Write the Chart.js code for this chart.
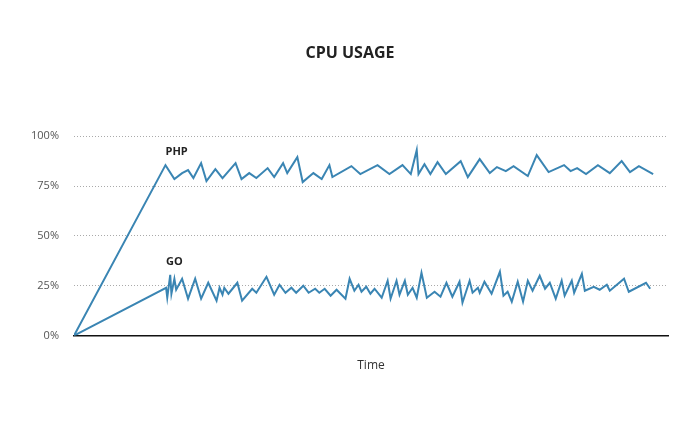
<!DOCTYPE html>
<html>
<head>
<meta charset="utf-8">
<script src="https://cdn.jsdelivr.net/npm/chart.js@4"></script>
<style>
  html, body { margin: 0; padding: 0; background: #fff; }
  #wrap { width: 700px; height: 440px; }
</style>
</head>
<body>
<div id="wrap"><canvas id="cpuChart" width="700" height="440"></canvas></div>
<script>
// time axis (arbitrary units 0..100) and cpu usage in %
const seriesNames = ['PHP', 'GO'];

const phpTime = [0, 15.4, 16.9, 18.2, 19.2, 20.1, 21.4, 22.3, 23.8, 25.0, 27.2, 28.2, 29.5, 30.7, 32.6, 33.7,
  35.2, 35.9, 37.6, 38.5, 40.3, 41.7, 43.0, 43.5, 46.7, 48.2, 51.1, 53.1, 55.3, 56.7, 57.7, 58.0, 59.0, 60.0,
  61.2, 62.6, 65.1, 66.3, 68.3, 70.0, 71.2, 72.7, 74.0, 76.4, 77.9, 79.9, 82.5, 83.6, 84.7, 86.2, 88.2, 90.2,
  92.2, 93.6, 95.1, 97.5];
const phpCpu = [0, 85.5, 78.5, 81.5, 83, 79, 86.5, 77.5, 83.5, 79, 86.5, 78.5, 81.5, 79, 84, 79.5,
  86.5, 81.5, 89.5, 77, 81.5, 78.5, 85.5, 79.5, 85, 81, 85.5, 81, 85.5, 81, 93, 81, 86, 81,
  87, 81, 87.5, 79.5, 88.5, 81.5, 84.5, 82.5, 85, 80, 90.5, 82, 85.5, 82.5, 84, 81, 85.5, 81.5,
  87.5, 82, 85, 81];

const goTime = [0, 15.5, 15.7, 16.2, 16.4, 16.9, 17.2, 18.2, 19.2, 20.4, 21.4, 22.6, 24.0, 24.5, 25.0, 25.3,
  26.0, 27.5, 28.3, 30.0, 30.7, 32.4, 33.7, 34.6, 35.6, 36.6, 37.4, 38.6, 39.5, 40.6, 41.3, 42.2, 43.2, 44.2,
  45.7, 46.4, 47.2, 47.9, 48.4, 49.2, 49.9, 50.6, 51.8, 52.8, 53.3, 54.3, 54.8, 55.7, 56.2, 57.0, 57.7, 58.5,
  59.4, 60.7, 61.7, 62.7, 63.7, 64.9, 65.4, 66.6, 67.1, 68.0, 68.3, 69.1, 70.3, 71.7, 72.3, 73.0, 73.7, 74.7,
  75.6, 76.4, 77.2, 78.4, 79.3, 80.1, 81.1, 82.1, 82.6, 83.8, 84.2, 85.5, 86.0, 87.5, 88.5, 89.7, 90.2, 92.6,
  93.4, 96.3, 97.0];
const goCpu = [0, 24, 19, 30.5, 21, 28.5, 23, 28.5, 18.5, 28.5, 18.5, 26.5, 17.5, 24, 20.5, 24,
  21, 26.5, 17.5, 23.5, 21.5, 29.5, 20.5, 25.5, 21.5, 24, 21.5, 25, 21.5, 23.5, 21.5, 23.5, 20, 23,
  18.5, 28.5, 22.5, 25.5, 22, 24.5, 21, 23.5, 19, 27.5, 18.5, 27.5, 20.5, 27.5, 20.5, 24, 19, 31.5,
  19, 22, 19.5, 26.5, 19.5, 27, 16.5, 27.5, 21.5, 24, 21.5, 27, 21, 32, 20, 22, 17, 27,
  17, 27.5, 22.5, 30, 23.5, 26.5, 18.5, 27.5, 20, 27.5, 21.5, 31, 22.5, 24.5, 23, 25.5, 22.5, 28.5,
  22, 26.5, 23.5];

const yTicks = [0, 25, 50, 75, 100];

const lineColor = '#3a85b3';

function toPoints(xs, ys) {
    return xs.map(function(x, i) { return { x: x, y: ys[i] }; });
}

// draws the series name above the start of each plateau
const seriesLabels = {
    id: 'seriesLabels',
    afterDatasetsDraw: function(chart) {
        const ctx = chart.ctx;
        ctx.save();
        ctx.font = 'bold 11px "Open Sans", sans-serif';
        ctx.fillStyle = '#222';
        ctx.textAlign = 'left';
        ctx.textBaseline = 'middle';
        chart.data.datasets.forEach(function(ds, i) {
            const pts = chart.getDatasetMeta(i).data;
            let top = Infinity;
            for (let k = 1; k < 6 && k < pts.length; k++) top = Math.min(top, pts[k].y);
            ctx.fillText(ds.label, pts[1].x, top - 13);
        });
        ctx.restore();
    }
};

Chart.defaults.font.family = '"Open Sans", sans-serif';

new Chart(document.getElementById('cpuChart').getContext('2d'), {
    type: 'line',
    data: {
        datasets: [
            { label: seriesNames[0], data: toPoints(phpTime, phpCpu) },
            { label: seriesNames[1], data: toPoints(goTime, goCpu) }
        ]
    },
    options: {
        responsive: false,
        animation: false,
        layout: { padding: { left: 16, right: 16, top: 0, bottom: 67 } },
        elements: {
            line: { borderColor: lineColor, borderWidth: 2, tension: 0, fill: false },
            point: { radius: 0, hoverRadius: 0 }
        },
        plugins: {
            legend: { display: false },
            tooltip: { enabled: false },
            title: {
                display: true,
                text: 'CPU USAGE',
                color: '#222',
                font: { size: 16, weight: 'bold' },
                padding: { top: 44, bottom: 73 }
            }
        },
        scales: {
            x: {
                type: 'linear',
                min: 0,
                max: 100,
                ticks: { display: false },
                grid: { display: true, drawOnChartArea: false, drawTicks: false },
                border: { display: true, color: '#111', width: 1.5 },
                title: {
                    display: true,
                    text: 'Time',
                    color: '#333',
                    font: { size: 12 },
                    padding: { top: 23, bottom: 0 }
                }
            },
            y: {
                min: 0,
                max: 100,
                afterFit: function(scale) { scale.width = 58; },
                afterBuildTicks: function(scale) {
                    scale.ticks = yTicks.map(function(v) { return { value: v }; });
                },
                ticks: {
                    color: '#555',
                    font: { size: 11 },
                    padding: 15,
                    callback: function(v) { return v + '%'; }
                },
                grid: { color: '#aaa', lineWidth: 1, drawTicks: false },
                border: { display: false, dash: [1, 2] }
            },
            // empty right axis, only keeps a margin so the plot ends short of the edge
            yRight: {
                position: 'right',
                min: 0,
                max: 100,
                afterFit: function(scale) { scale.width = 16; },
                ticks: { display: false },
                grid: { display: false },
                border: { display: false }
            }
        }
    },
    plugins: [seriesLabels]
});
</script>
</body>
</html>
